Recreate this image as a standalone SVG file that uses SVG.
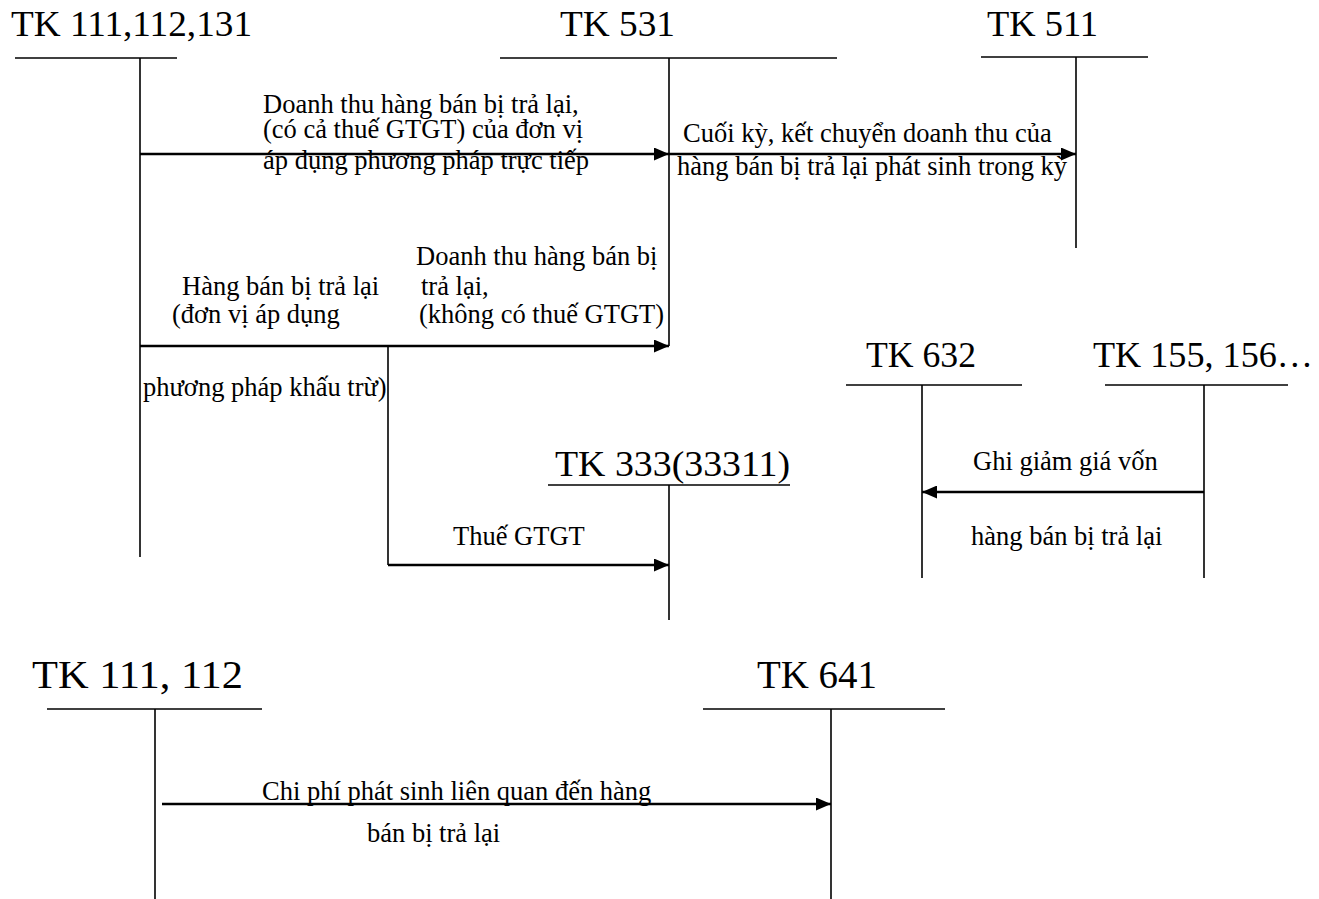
<svg xmlns="http://www.w3.org/2000/svg" width="1319" height="899" viewBox="0 0 1319 899">
<style>
text{font-family:"Liberation Serif","Times New Roman",serif;fill:#000}
.t{font-size:36px}
.b{font-size:39px}
.l{font-size:26.5px}
.ln{stroke:#000;stroke-width:1.6;fill:none}
.ar{stroke:#000;stroke-width:2.4;fill:none}
</style>
<defs>
<marker id="ah" markerWidth="15" markerHeight="13" refX="15" refY="6.5" orient="auto" markerUnits="userSpaceOnUse">
<path d="M0,0 L15,6.5 L0,13 Z" fill="#000"/>
</marker>
</defs>
<rect width="1319" height="899" fill="#fff"/>
<g id="tk111_112_131">
<text class="t" x="11" y="36" textLength="241" lengthAdjust="spacingAndGlyphs">TK 111,112,131</text>
<line class="ln" x1="15" y1="58" x2="177" y2="58"/>
<line class="ln" x1="140" y1="58" x2="140" y2="557"/>
</g>
<g id="tk531">
<text class="t" x="560" y="36" textLength="115" lengthAdjust="spacingAndGlyphs">TK 531</text>
<line class="ln" x1="500" y1="58" x2="837" y2="58"/>
<line class="ln" x1="669" y1="58" x2="669" y2="346"/>
</g>
<g id="tk511">
<text class="t" x="987" y="36" textLength="111" lengthAdjust="spacingAndGlyphs">TK 511</text>
<line class="ln" x1="981" y1="57" x2="1148" y2="57"/>
<line class="ln" x1="1076" y1="57" x2="1076" y2="248"/>
</g>
<g id="tk333">
<text class="t" x="555" y="476" textLength="235" lengthAdjust="spacingAndGlyphs">TK 333(33311)</text>
<line class="ln" x1="548" y1="485" x2="790" y2="485"/>
<line class="ln" x1="669" y1="485" x2="669" y2="620"/>
</g>
<g id="tk632">
<text class="t" x="866" y="367" textLength="110" lengthAdjust="spacingAndGlyphs">TK 632</text>
<line class="ln" x1="846" y1="385" x2="1022" y2="385"/>
<line class="ln" x1="922" y1="385" x2="922" y2="578"/>
</g>
<g id="tk155_156">
<text class="t" x="1093" y="367" textLength="220" lengthAdjust="spacingAndGlyphs">TK 155, 156…</text>
<line class="ln" x1="1105" y1="385" x2="1288" y2="385"/>
<line class="ln" x1="1204" y1="385" x2="1204" y2="578"/>
</g>
<g id="tk111_112">
<text class="b" x="32" y="688" textLength="211" lengthAdjust="spacingAndGlyphs">TK 111, 112</text>
<line class="ln" x1="47" y1="709" x2="262" y2="709"/>
<line class="ln" x1="155" y1="709" x2="155" y2="899"/>
</g>
<g id="tk641">
<text class="b" x="757" y="688" textLength="120" lengthAdjust="spacingAndGlyphs">TK 641</text>
<line class="ln" x1="703" y1="709" x2="945" y2="709"/>
<line class="ln" x1="831" y1="709" x2="831" y2="899"/>
</g>
<g id="connectors">
<line class="ar" x1="140" y1="154" x2="669" y2="154" marker-end="url(#ah)"/>
<line class="ar" x1="669" y1="154" x2="1076" y2="154" marker-end="url(#ah)"/>
<line class="ar" x1="140" y1="346" x2="669" y2="346" marker-end="url(#ah)"/>
<polyline class="ln" points="388,346 388,565"/>
<line class="ar" x1="388" y1="565" x2="669" y2="565" marker-end="url(#ah)"/>
<line class="ar" x1="1204" y1="492" x2="922" y2="492" marker-end="url(#ah)"/>
<line class="ar" x1="162" y1="804" x2="831" y2="804" marker-end="url(#ah)"/>
</g>
<g id="labels">
<text class="l" x="263" y="113">Doanh thu hàng bán bị trả lại,</text>
<text class="l" x="263" y="138">(có cả thuế GTGT) của đơn vị</text>
<text class="l" x="263" y="169">áp dụng phương pháp trực tiếp</text>
<text class="l" x="683" y="142">Cuối kỳ, kết chuyển doanh thu của</text>
<text class="l" x="677" y="175">hàng bán bị trả lại phát sinh trong kỳ</text>
<text class="l" x="416" y="265">Doanh thu hàng bán bị</text>
<text class="l" x="182" y="295">Hàng bán bị trả lại</text>
<text class="l" x="421" y="295">trả lại,</text>
<text class="l" x="172" y="323">(đơn vị áp dụng</text>
<text class="l" x="419" y="323">(không có thuế GTGT)</text>
<text class="l" x="143" y="396">phương pháp khấu trừ)</text>
<text class="l" x="453" y="545">Thuế GTGT</text>
<text class="l" x="973" y="470">Ghi giảm giá vốn</text>
<text class="l" x="971" y="545">hàng bán bị trả lại</text>
<text class="l" x="262" y="800">Chi phí phát sinh liên quan đến hàng</text>
<text class="l" x="367" y="842">bán bị trả lại</text>
</g>
</svg>
